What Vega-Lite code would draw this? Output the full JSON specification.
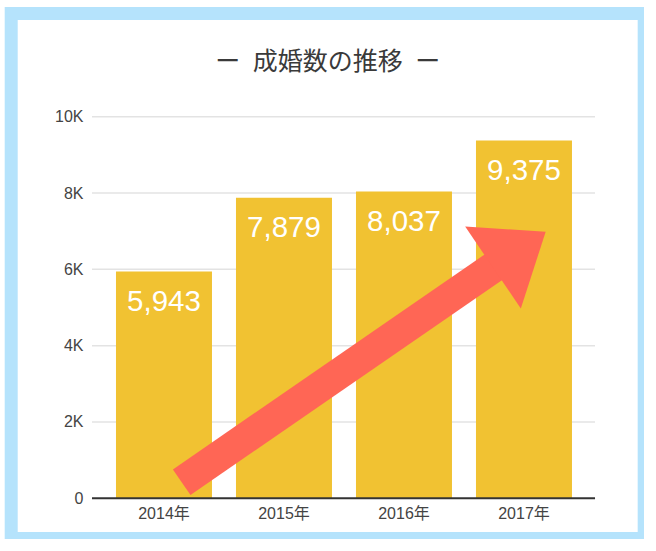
{
  "$schema": "https://vega.github.io/schema/vega-lite/v6.json",
  "width": 633,
  "height": 525,
  "autosize": {"type": "none"},
  "padding": {"left": 11.2, "top": 13.5, "right": 0, "bottom": 0},
  "background": "white",
  "config": {
    "view": {"stroke": "#b5e3fc", "strokeWidth": 13, "fill": "white"},
    "font": "Liberation Sans"
  },
  "title": {
    "text": "ー\u2002成婚数の推移\u2002ー",
    "font": "Noto Sans CJK JP",
    "fontSize": 25,
    "fontWeight": "normal",
    "color": "#3a3a3a",
    "anchor": "middle",
    "offset": -61
  },
  "datasets": {
    "bars": [
      {"year": "2014年", "value": 5943},
      {"year": "2015年", "value": 7879},
      {"year": "2016年", "value": 8037},
      {"year": "2017年", "value": 9375}
    ],
    "grid": [
      {"value": 2000, "start": 2013.4, "end": 2017.592},
      {"value": 4000, "start": 2013.4, "end": 2017.592},
      {"value": 6000, "start": 2013.4, "end": 2017.592},
      {"value": 8000, "start": 2013.4, "end": 2017.592},
      {"value": 10000, "start": 2013.4, "end": 2017.592}
    ],
    "baseline": [
      {"value": 0, "start": 2013.4, "end": 2017.592}
    ],
    "shaft": [
      {"pos": 2014.1475, "value": 422},
      {"pos": 2016.8, "value": 6174}
    ],
    "head": [
      {"pos": 2016.9613, "value": 6517}
    ]
  },
  "encoding": {
    "y": {
      "field": "value",
      "type": "quantitative",
      "scale": {"domain": [-1053.5, 12704.4], "nice": false, "zero": false},
      "axis": {
        "title": null,
        "values": [0, 2000, 4000, 6000, 8000, 10000],
        "labelExpr": "datum.value == 0 ? '0' : format(datum.value / 1000, 'd') + 'K'",
        "grid": false,
        "domain": false,
        "ticks": false,
        "offset": -80.8,
        "labelPadding": 9,
        "labelFont": "Liberation Sans",
        "labelFontSize": 16,
        "labelColor": "#444444"
      }
    }
  },
  "layer": [
    {
      "data": {"name": "grid"},
      "mark": {"type": "rule", "color": "#e3e3e3", "strokeWidth": 1.5},
      "encoding": {
        "x": {"field": "start", "type": "quantitative", "scale": {"domain": [2012.7267, 2018.0017], "nice": false, "zero": false}, "axis": null},
        "x2": {"field": "end"}
      }
    },
    {
      "data": {"name": "bars"},
      "mark": {"type": "bar", "color": "#f1c232"},
      "encoding": {
        "x": {
          "field": "year",
          "type": "nominal",
          "sort": null,
          "scale": {"type": "band", "paddingInner": 0.2, "paddingOuter": 0.7375, "align": 0.592},
          "axis": {
            "title": null,
            "orient": "bottom",
            "offset": -40.2,
            "domain": false,
            "ticks": false,
            "labelAngle": 0,
            "labelPadding": 7,
            "labelFont": "Liberation Sans, Noto Sans CJK JP",
            "labelFontSize": 16,
            "labelColor": "#444444"
          }
        },
        "y2": {"datum": 0}
      }
    },
    {
      "data": {"name": "baseline"},
      "mark": {"type": "rule", "color": "#333333", "strokeWidth": 2},
      "encoding": {
        "x": {"field": "start", "type": "quantitative", "scale": {"domain": [2012.7267, 2018.0017], "nice": false, "zero": false}, "axis": null},
        "x2": {"field": "end"}
      }
    },
    {
      "data": {"name": "bars"},
      "mark": {"type": "text", "color": "white", "fontSize": 29.5, "font": "Liberation Sans", "baseline": "alphabetic", "align": "center", "dy": 39},
      "encoding": {
        "x": {
          "field": "year",
          "type": "nominal",
          "sort": null,
          "bandPosition": 0.5,
          "scale": {"type": "band", "paddingInner": 0.2, "paddingOuter": 0.7375, "align": 0.592},
          "axis": null
        },
        "text": {"field": "value", "type": "quantitative", "format": ","}
      }
    },
    {
      "data": {"name": "shaft"},
      "mark": {"type": "line", "color": "#ff6655", "strokeWidth": 31, "strokeCap": "butt"},
      "encoding": {
        "x": {"field": "pos", "type": "quantitative", "scale": {"domain": [2012.7267, 2018.0017], "nice": false, "zero": false}, "axis": null}
      }
    },
    {
      "data": {"name": "head"},
      "mark": {"type": "point", "shape": "M0.637,0 L-0.637,0.99 L-0.637,-0.99 Z", "size": 10000, "angle": 325.8, "filled": true, "color": "#ff6655", "opacity": 1, "strokeWidth": 0},
      "encoding": {
        "x": {"field": "pos", "type": "quantitative", "scale": {"domain": [2012.7267, 2018.0017], "nice": false, "zero": false}, "axis": null}
      }
    }
  ],
  "resolve": {"scale": {"x": "independent"}}
}
